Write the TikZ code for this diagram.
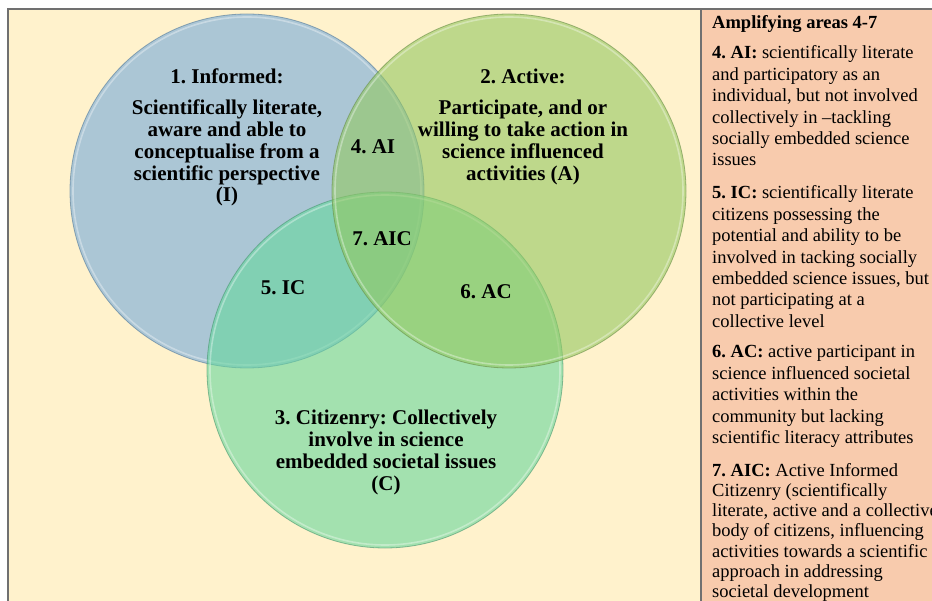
\documentclass[tikz,border=0pt]{standalone}
\usepackage{fontspec}
\setmainfont{Liberation Serif}
\frenchspacing
\definecolor{cream}{RGB}{255,242,204}
\definecolor{salmon}{RGB}{248,203,173}
\definecolor{framegray}{RGB}{112,112,112}
\definecolor{cblue}{RGB}{115,170,219}
\definecolor{cgreen}{RGB}{147,200,97}
\definecolor{ccit}{RGB}{102,215,157}
\tikzset{
  venn/.style={circle, inner sep=0pt, fill opacity=0.6, draw opacity=0.6, line width=0.8pt},
  ring/.style={draw=white, draw opacity=0.35, line width=1.6pt},
  ctext/.style={font=\bfseries\fontsize{21}{21.7}\selectfont, align=center, anchor=base, inner sep=0pt},
  ptext/.style={font=\fontsize{18.5}{21.4}\selectfont, align=left, anchor=base west, inner sep=0pt},
}
\begin{document}
\begin{tikzpicture}[x=1pt,y=-1pt]
\useasboundingbox (0,0) rectangle (932,601);
\begin{scope}
\clip (0,0) rectangle (932,601);
\fill[white] (0,0) rectangle (932,601);
\fill[cream] (8,9) rectangle (701,601);
\fill[salmon] (701,9) rectangle (932,601);
\draw[framegray, line width=2pt] (8,601) -- (8,9) -- (932,9);
\draw[framegray, line width=1.2pt] (701,9) -- (701,601);

% circles
\node[venn, fill=cblue, draw=cblue!70!black, minimum size=354pt] (inf) at (247,191) {};
\draw[ring] (inf.center) circle[radius=174pt];
\node[venn, fill=ccit, draw=ccit!70!black, minimum size=356pt] (cit) at (385,370) {};
\draw[ring] (cit.center) circle[radius=175pt];
\node[venn, fill=cgreen, draw=cgreen!70!black, minimum size=354pt] (act) at (509,191) {};
\draw[ring] (act.center) circle[radius=174pt];

% circle texts (anchor = baseline of last line)
\node[ctext] (t1h) at (227,84) {1. Informed:};
\node[ctext] (t1) at (227,201.8) {Scientifically literate,\\aware and able to\\conceptualise from a\\scientific perspective\\(I)};
\node[ctext] (t2h) at (523,84) {2. Active:};
\node[ctext] (t2) at (523,180.1) {Participate, and or\\willing to take action in\\science influenced\\activities (A)};
\node[ctext] (t3) at (386,490.1) {3. Citizenry: Collectively\\involve in science\\embedded societal issues\\(C)};
\node[ctext] (t4) at (373,154) {4. AI};
\node[ctext] (t7) at (382,246) {7. AIC};
\node[ctext] (t6) at (486,299) {6. AC};
\node[ctext] (t5) at (283,295) {5. IC};

% right panel (anchor = baseline of last line)
\node[ptext, font=\bfseries\fontsize{18.5}{21.4}\selectfont] (ph) at (712,29) {Amplifying areas 4-7};
\node[ptext] (p4) at (712,166) {\textbf{4. AI:} scientifically literate\\and participatory as an\\individual, but not involved\\collectively in --tackling\\socially embedded science\\issues};
\node[ptext] (p5) at (712,327.4) {\textbf{5. IC:} scientifically literate\\citizens possessing the\\potential and ability to be\\involved in tacking socially\\embedded science issues, but\\not participating at a\\collective level};
\node[ptext] (p6) at (712,443.6) {\textbf{6. AC:} active participant in\\science influenced societal\\activities within the\\community but lacking\\scientific literacy attributes};
\node[ptext, font=\fontsize{18.5}{20.3}\selectfont] (p7) at (712,597.8) {\textbf{7. AIC:} Active Informed\\Citizenry (scientifically\\literate, active and a collective\\body of citizens, influencing\\activities towards a scientific\\approach in addressing\\societal development};
\end{scope}
\end{tikzpicture}
\end{document}
